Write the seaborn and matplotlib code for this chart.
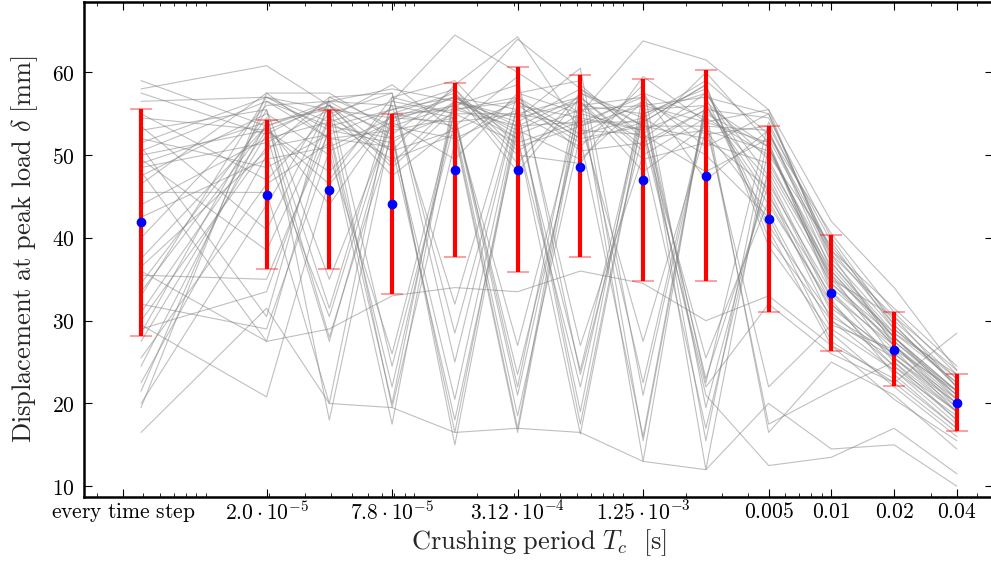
import numpy as np
import pandas as pd
import matplotlib
matplotlib.use("Agg")
import matplotlib.pyplot as plt
from matplotlib import ticker
import seaborn as sns

# crushing periods: 0.04 / 2^k, "every time step" put one doubling below 1.95e-5
periods = [0.04 / 2**13] + [0.04 / 2**k for k in range(11, -1, -1)]

# mean and +/- std
mean_disp = [41.9, 45.2, 45.8, 44.1, 48.2, 48.2, 48.6, 47.0, 47.5, 42.3, 33.3, 26.5, 20.1]
err_low   = [28.2, 36.2, 36.2, 33.2, 37.7, 35.9, 37.7, 34.8, 34.8, 31.0, 26.3, 22.1, 16.7]
err_high  = [55.6, 54.2, 55.4, 55.0, 58.7, 60.6, 59.7, 59.2, 60.3, 53.5, 40.4, 31.0, 23.5]

# single runs (grey lines), one row per run
runs = [
    [59.0, 53.5, 56.5, 52.0, 55.0, 51.5, 54.0, 27.5, 53.0, 50.5, 36.5, 28.0, 21.5],
    [58.0, 60.8, 56.0, 50.5, 58.5, 64.3, 53.0, 52.5, 48.0, 52.0, 38.0, 30.5, 22.0],
    [57.5, 52.5, 27.5, 54.5, 57.0, 52.0, 22.0, 55.5, 56.0, 45.0, 33.0, 27.0, 20.5],
    [56.5, 57.0, 53.0, 22.0, 55.5, 53.5, 57.0, 50.5, 17.0, 48.5, 35.5, 25.5, 19.0],
    [55.0, 47.0, 55.0, 57.5, 25.0, 56.0, 51.5, 54.0, 58.5, 40.0, 30.0, 24.0, 18.5],
    [54.5, 53.0, 46.5, 55.0, 53.5, 18.5, 52.5, 56.5, 52.5, 53.5, 39.5, 29.0, 23.0],
    [53.5, 41.0, 56.0, 49.0, 56.5, 54.5, 60.5, 21.0, 55.0, 51.0, 34.0, 27.5, 21.0],
    [53.0, 55.5, 35.0, 54.0, 49.5, 57.5, 55.0, 53.0, 25.5, 44.5, 31.5, 26.0, 20.0],
    [52.0, 48.5, 52.5, 20.0, 57.5, 50.0, 49.0, 59.5, 54.0, 55.5, 37.0, 28.5, 22.5],
    [51.0, 30.5, 57.0, 53.5, 52.0, 55.5, 17.5, 55.0, 57.5, 47.5, 32.5, 23.5, 17.0],
    [50.5, 56.5, 52.0, 51.0, 18.0, 53.0, 56.5, 48.0, 53.5, 22.0, 29.5, 26.5, 21.5],
    [50.0, 53.0, 48.0, 56.0, 54.5, 23.5, 54.0, 57.0, 15.5, 52.5, 40.5, 31.0, 23.5],
    [49.5, 38.5, 54.5, 58.5, 53.0, 56.5, 52.0, 16.0, 56.5, 49.5, 35.0, 27.0, 19.5],
    [49.0, 54.0, 28.0, 52.5, 58.0, 49.0, 57.5, 54.5, 50.0, 42.5, 27.5, 22.5, 16.5],
    [48.5, 51.5, 55.5, 47.5, 53.5, 59.5, 23.5, 52.5, 60.0, 51.5, 33.5, 25.0, 18.0],
    [48.0, 27.5, 53.5, 55.5, 57.0, 52.5, 55.5, 56.0, 22.5, 54.0, 38.5, 29.5, 22.0],
    [47.5, 55.0, 50.0, 26.0, 55.5, 57.0, 50.5, 51.5, 55.5, 16.5, 25.0, 21.0, 14.5],
    [46.5, 57.5, 57.5, 53.0, 15.0, 54.0, 58.0, 53.5, 52.0, 46.0, 31.0, 24.5, 19.0],
    [45.5, 45.5, 20.0, 57.0, 59.0, 51.0, 53.5, 57.5, 47.0, 53.0, 36.0, 28.0, 21.0],
    [44.0, 52.0, 54.0, 49.5, 52.5, 16.5, 56.0, 55.0, 58.0, 41.5, 30.5, 26.0, 20.5],
    [42.5, 49.5, 51.0, 54.5, 56.0, 58.5, 27.0, 50.0, 54.5, 50.0, 39.0, 30.0, 23.0],
    [40.0, 56.0, 56.5, 24.5, 54.0, 55.0, 51.0, 58.5, 19.5, 48.0, 34.5, 27.0, 20.0],
    [37.5, 53.5, 44.0, 55.0, 57.5, 48.0, 57.0, 13.0, 57.0, 55.0, 37.5, 29.0, 22.5],
    [36.5, 50.5, 57.0, 57.5, 28.5, 56.0, 54.5, 53.0, 56.0, 44.0, 32.0, 25.5, 19.5],
    [35.5, 35.0, 53.0, 51.5, 56.5, 53.0, 49.5, 56.5, 12.0, 51.0, 35.5, 28.5, 23.5],
    [34.5, 54.5, 31.5, 56.5, 55.0, 22.0, 58.5, 52.0, 53.0, 43.0, 29.0, 24.0, 17.5],
    [33.0, 57.0, 55.5, 19.5, 51.5, 57.0, 52.5, 54.5, 59.0, 52.5, 38.5, 31.5, 24.5],
    [32.0, 29.0, 50.5, 54.0, 57.0, 55.5, 19.0, 57.5, 54.5, 17.5, 21.5, 25.0, 19.0],
    [31.0, 53.0, 56.0, 52.5, 16.5, 54.5, 56.5, 49.5, 51.5, 49.0, 36.0, 27.5, 21.5],
    [30.0, 51.0, 52.5, 55.5, 58.0, 50.5, 55.0, 22.5, 55.5, 54.5, 40.0, 29.5, 22.0],
    [29.5, 20.8, 47.0, 57.0, 55.0, 55.0, 53.5, 56.0, 57.0, 41.0, 27.0, 23.0, 17.0],
    [29.0, 33.5, 54.5, 50.5, 53.0, 17.0, 57.5, 53.5, 53.5, 53.0, 37.0, 28.0, 20.5],
    [28.5, 55.5, 18.0, 53.5, 56.0, 52.0, 16.3, 55.0, 23.0, 46.5, 33.5, 26.5, 19.0],
    [27.5, 52.5, 56.5, 56.0, 32.0, 57.5, 59.0, 15.5, 56.0, 51.0, 35.0, 30.5, 24.0],
    [25.5, 46.5, 51.5, 17.5, 57.0, 53.5, 54.0, 54.0, 58.5, 39.0, 28.5, 22.0, 16.0],
    [24.5, 54.0, 55.5, 54.5, 54.0, 27.0, 56.0, 57.0, 51.0, 55.0, 38.0, 27.0, 21.0],
    [22.5, 50.0, 30.5, 55.0, 55.5, 56.5, 52.0, 53.5, 21.0, 12.5, 13.5, 17.0, 11.5],
    [21.5, 56.5, 53.5, 52.0, 20.5, 55.0, 57.0, 51.0, 55.5, 47.0, 32.0, 24.5, 18.0],
    [20.0, 44.0, 56.5, 58.0, 56.5, 54.0, 24.0, 56.0, 54.0, 51.5, 34.5, 28.0, 21.5],
    [19.5, 57.5, 52.0, 53.0, 54.5, 21.0, 55.5, 52.0, 57.5, 45.5, 30.0, 25.5, 20.0],
    [16.5, 31.5, 20.0, 19.5, 16.5, 17.0, 16.5, 13.0, 12.0, 20.0, 14.5, 15.0, 10.0],
    [36.0, 27.5, 29.0, 33.0, 34.0, 33.5, 36.0, 34.5, 30.0, 33.0, 27.0, 20.5, 15.5],
    [33.5, 53.5, 56.0, 48.5, 55.5, 64.0, 58.0, 52.5, 22.0, 32.0, 26.0, 22.5, 28.5],
    [51.5, 57.0, 54.0, 56.5, 64.5, 60.0, 55.0, 63.8, 61.5, 55.5, 42.0, 34.0, 24.0],
]

tick_pos = [4e-6, 0.04 / 2**11, 0.04 / 2**9, 0.04 / 2**7, 0.04 / 2**5, 0.005, 0.01, 0.02, 0.04]
tick_lab = [r"$\mathrm{every\ time\ step}$", r"$2.0\cdot10^{-5}$", r"$7.8\cdot10^{-5}$",
            r"$3.12\cdot10^{-4}$", r"$1.25\cdot10^{-3}$", r"$0.005$", r"$0.01$", r"$0.02$", r"$0.04$"]

sns.set_style("ticks")
plt.rcParams["font.family"] = ["DejaVu Serif"]
plt.rcParams["mathtext.fontset"] = "cm"
plt.rcParams.update({"xtick.direction": "in", "ytick.direction": "in",
                     "xtick.top": True, "ytick.right": True,
                     "axes.edgecolor": "black", "xtick.color": "black", "ytick.color": "black"})

df = pd.DataFrame([(i, periods[j], v) for i, r in enumerate(runs) for j, v in enumerate(r)],
                  columns=["run", "Tc", "delta"])

fig = plt.figure(figsize=(9.91, 5.63), dpi=100)
ax = fig.add_axes([84/991, 1 - 497/563, 1 - 84/991 + 0.002, (497 - 2)/563])
sns.lineplot(data=df, x="Tc", y="delta", units="run", estimator=None, color="0.5",
             alpha=0.5, linewidth=0.8, ax=ax, legend=False)

yerr = [np.array(mean_disp) - np.array(err_low), np.array(err_high) - np.array(mean_disp)]
eb = ax.errorbar(periods, mean_disp, yerr=yerr, fmt="o", color="blue", ms=6, mec="blue",
                 ecolor="red", elinewidth=3, capsize=8, capthick=1.2, zorder=5)
for cl in eb[1]:
    cl.set_alpha(0.45)

ax.set_xscale("log")
ax.set_xlim(2.6e-6, 0.0596)
ax.set_ylim(8.7, 68.5)
ax.xaxis.set_major_locator(ticker.FixedLocator(tick_pos))
ax.xaxis.set_major_formatter(ticker.FixedFormatter(tick_lab))
ax.xaxis.set_minor_locator(ticker.LogLocator(base=10, subs=np.arange(1, 10), numticks=30))
ax.xaxis.set_minor_formatter(ticker.NullFormatter())
ax.set_yticks([10, 20, 30, 40, 50, 60])
ax.yaxis.set_major_formatter(ticker.FuncFormatter(lambda v, p: rf"${int(v)}$"))
ax.tick_params(which="major", length=6, width=0.8, labelsize=15.5)
ax.tick_params(axis="x", which="major", pad=3)
ax.tick_params(axis="y", which="major", pad=7)
ax.tick_params(which="minor", length=3, width=0.6)
for s in ["left", "bottom", "top"]:
    ax.spines[s].set_linewidth(1.8)
ax.spines["right"].set_visible(False)

ax.set_xlabel(r"$\mathrm{Crushing\ period}\ T_c\ \ \mathrm{[s]}$", fontsize=19, labelpad=2)
ax.set_ylabel(r"$\mathrm{Displacement\ at\ peak\ load}\ \delta\ \mathrm{[mm]}$", fontsize=19, labelpad=8)

fig.savefig("out.png", dpi=100, facecolor="white")
